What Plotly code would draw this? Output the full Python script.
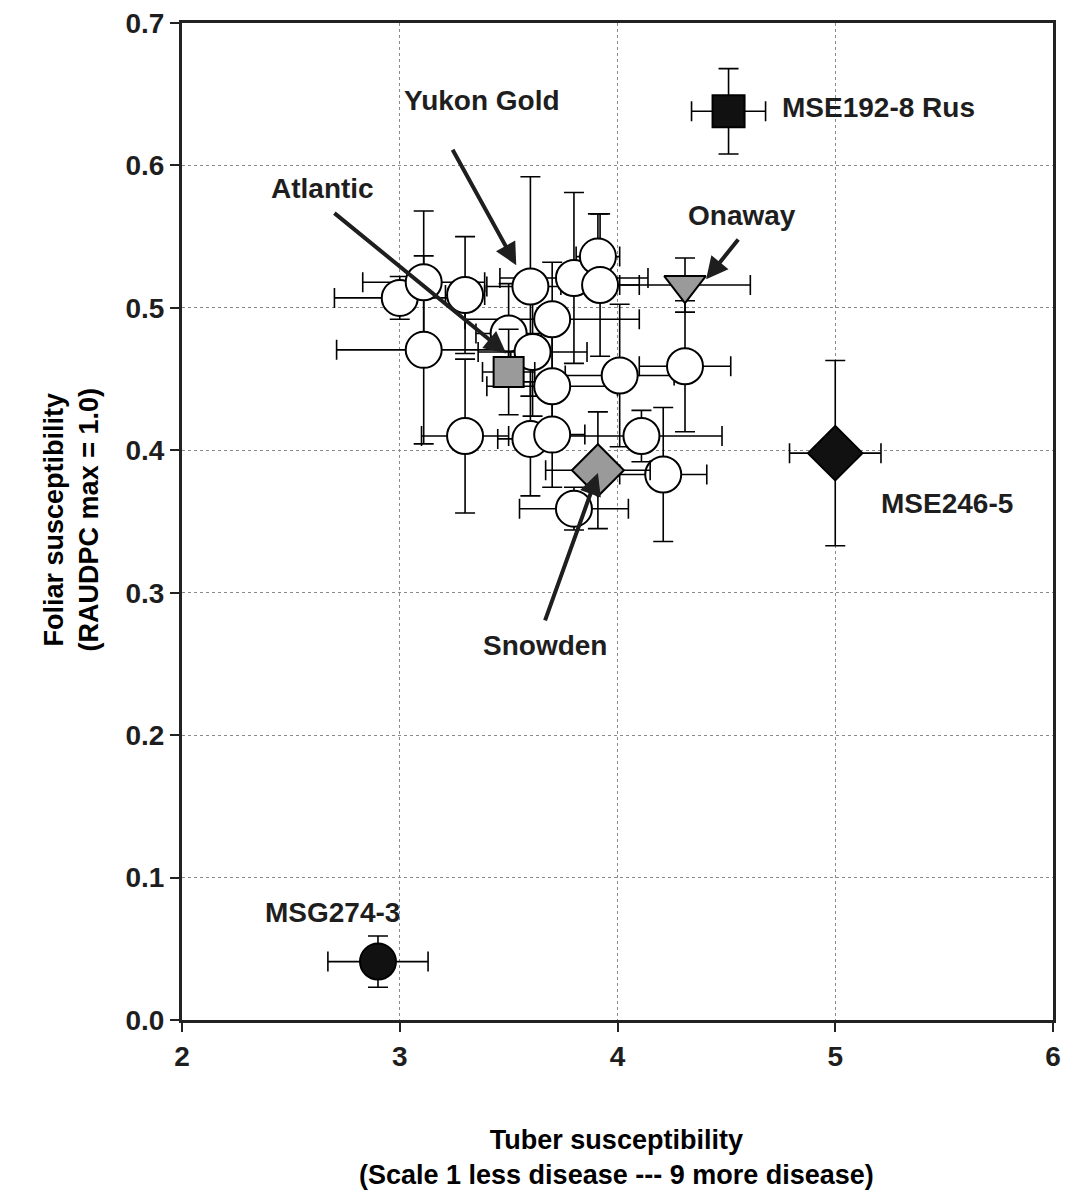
import plotly.graph_objects as go

# Open-circle clones
clone_x = [3.00, 3.11, 3.30, 3.60, 3.80, 3.91, 3.92, 3.70, 3.50, 3.61, 3.11, 3.70, 4.01, 4.31, 3.30, 3.60, 3.70, 4.11, 4.21, 3.80]
clone_y = [0.507, 0.518, 0.509, 0.515, 0.521, 0.536, 0.516, 0.492, 0.482, 0.469, 0.4705, 0.445, 0.4525, 0.459, 0.410, 0.408, 0.411, 0.410, 0.383, 0.359]
clone_xerr = [0.30, 0.28, 0.09, 0.20, 0.34, 0.10, 0.18, 0.40, 0.15, 0.25, 0.40, 0.30, 0.25, 0.21, 0.20, 0.15, 0.15, 0.37, 0.20, 0.25]
clone_yerr = [0.015, 0.050, 0.041, 0.077, 0.060, 0.030, 0.050, 0.040, 0.035, 0.045, 0.066, 0.040, 0.050, 0.046, 0.054, 0.040, 0.037, 0.018, 0.047, 0.015]

# Named cultivars / clones: x, y, xerr, yerr
atlantic = (3.50, 0.455, 0.12, 0.030)
snowden = (3.91, 0.386, 0.24, 0.041)
onaway = (4.31, 0.516, 0.30, 0.019)
mse192 = (4.51, 0.638, 0.17, 0.030)
mse246 = (5.00, 0.398, 0.21, 0.065)
msg274 = (2.90, 0.041, 0.23, 0.018)

x_ticks = [2, 3, 4, 5, 6]
y_ticks = [0.0, 0.1, 0.2, 0.3, 0.4, 0.5, 0.6, 0.7]

fig = go.Figure()

def add_pt(pt, symbol, fill, size):
    x, y, xe, ye = pt
    fig.add_trace(go.Scatter(
        x=[x], y=[y], mode="markers",
        marker=dict(symbol=symbol, size=size, color=fill, line=dict(color="black", width=2)),
        error_x=dict(type="data", array=[xe], color="black", thickness=1.6, width=10),
        error_y=dict(type="data", array=[ye], color="black", thickness=1.6, width=10),
        showlegend=False))

fig.add_trace(go.Scatter(
    x=clone_x, y=clone_y, mode="markers",
    marker=dict(symbol="circle", size=36, color="white", line=dict(color="black", width=2)),
    error_x=dict(type="data", array=clone_xerr, color="black", thickness=1.6, width=10),
    error_y=dict(type="data", array=clone_yerr, color="black", thickness=1.6, width=10),
    showlegend=False))

add_pt(atlantic, "square", "#9a9a9a", 30)
add_pt(snowden, "diamond", "#9a9a9a", 40)
add_pt(onaway, "triangle-down", "#9a9a9a", 36)
add_pt(mse192, "square", "#111111", 32)
add_pt(mse246, "diamond", "#111111", 42)
add_pt(msg274, "circle", "#111111", 36)

lab_font = dict(family="Liberation Sans, Arial", size=28, color="#1e1e1e")

labels = [
    ("Yukon Gold", 3.376, 0.6454, "center"),
    ("Atlantic", 2.647, 0.584, "center"),
    ("Onaway", 4.573, 0.5646, "center"),
    ("Snowden", 3.665, 0.2626, "center"),
    ("MSE192-8 Rus", 4.748, 0.6404, "left"),
    ("MSE246-5", 5.202, 0.3624, "left"),
    ("MSG274-3", 2.693, 0.0758, "center"),
]
for t, x, y, xa in labels:
    fig.add_annotation(x=x, y=y, text="<b>%s</b>" % t, showarrow=False,
                       xanchor=xa, yanchor="middle", font=lab_font)

# arrows: tail -> tip
arrows = [
    (3.239, 0.612, 3.535, 0.530),
    (2.693, 0.5674, 3.489, 0.468),
    (4.560, 0.549, 4.407, 0.520),
    (3.665, 0.2795, 3.910, 0.384),
]
for tx, ty, hx, hy in arrows:
    fig.add_annotation(x=hx, y=hy, ax=tx, ay=ty, axref="x", ayref="y",
                       text="", showarrow=True, arrowhead=2, arrowsize=1.1,
                       arrowwidth=4, arrowcolor="#1e1e1e")

title_font = dict(family="Liberation Sans Narrow, Liberation Sans, Arial", size=27, color="black")
fig.add_annotation(xref="paper", yref="paper", x=0.4994, y=-0.138,
                   text="<b>Tuber susceptibility<br>(Scale 1 less disease --- 9 more disease)</b>",
                   showarrow=False, font=title_font, xanchor="center", yanchor="middle")
fig.add_annotation(xref="paper", yref="paper", x=-0.127, y=0.5015, textangle=-90,
                   text="<b>Foliar susceptibility<br>(RAUDPC max = 1.0)</b>",
                   showarrow=False, font=title_font, xanchor="center", yanchor="middle")

tick_font = dict(family="Liberation Sans, Arial", size=28, color="#1e1e1e")
axis_common = dict(showline=True, linecolor="#222222", linewidth=3, mirror=True,
                   ticks="outside", ticklen=9, tickwidth=2, tickcolor="#222222",
                   showgrid=True, gridcolor="#8a8a8a", gridwidth=1, griddash="dot",
                   zeroline=False, tickfont=tick_font, automargin=False)
fig.update_xaxes(range=[2, 6], tickvals=x_ticks, ticktext=["<b>%d</b>" % v for v in x_ticks],
                 **axis_common)
fig.update_yaxes(range=[0, 0.7], tickvals=y_ticks, ticktext=["<b>%.1f</b>" % v for v in y_ticks],
                 **axis_common)

fig.update_layout(width=1065, height=1196, margin=dict(l=182, r=12, t=23, b=176),
                  paper_bgcolor="white", plot_bgcolor="white", showlegend=False)

fig.write_html("out.html", config={"displayModeBar": False},
               post_script="document.body.style.margin='0';document.body.style.overflow='hidden';")
